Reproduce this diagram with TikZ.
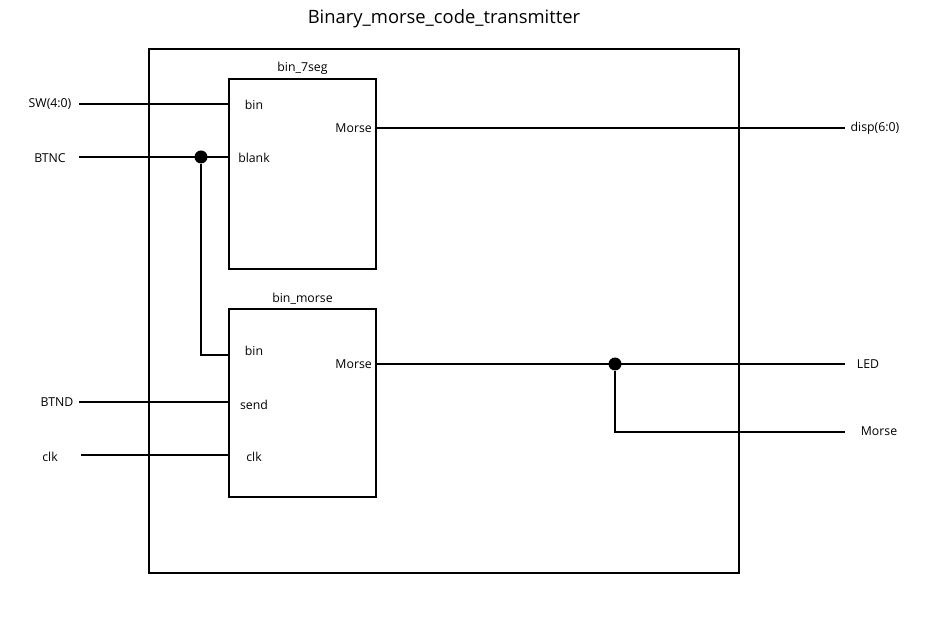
\documentclass[tikz,border=0pt]{standalone}
\usepackage{fontspec}
\setmainfont{Open Sans}
\usetikzlibrary{positioning,calc}

\begin{document}
\begin{tikzpicture}[
    x=1pt, y=-1pt,
    sig/.style={line width=1.4pt},
    top_box/.style={draw, line width=2.6pt, rectangle, minimum width=590pt, minimum height=524pt, inner sep=0pt},
    block/.style={draw, line width=2pt, rectangle, minimum width=147pt, minimum height=190pt, inner sep=0pt},
    blk_name/.style={font=\fontsize{12.3}{14}\selectfont, inner sep=1pt},
    port/.style={font=\fontsize{12.3}{14}\selectfont, inner sep=1pt},
    io_label/.style={font=\fontsize{12.3}{14}\selectfont, inner sep=1pt},
    dot/.style={circle, fill=black, inner sep=0pt, minimum size=13pt}
]
\useasboundingbox (0,0) rectangle (937,617);

% --- TOP LEVEL ---
\node[top_box] (top) at (444,311) {};
\node[font=\fontsize{18.4}{21}\selectfont] (title) at (444,19) {Binary\_morse\_code\_transmitter};

% --- BLOCKS ---
\node[block] (b7) at (302.5,174) {};
\node[blk_name, above=2pt of b7] (b7_name) {bin\_7seg};
\node[block, minimum height=188pt] (bm) at (302.5,403) {};
\node[blk_name, above=2pt of bm] (bm_name) {bin\_morse};

% ports of bin_7seg
\node[port] (b7_bin) at (254,105) {bin};
\node[port] (b7_blank) at (254,158) {blank};
\node[port, anchor=east] (b7_morse) at (373,128) {Morse};

% ports of bin_morse
\node[port] (bm_bin) at (254,351) {bin};
\node[port] (bm_send) at (254,405) {send};
\node[port] (bm_clk) at (254,457) {clk};
\node[port, anchor=east] (bm_morse) at (373,364) {Morse};

% --- INPUTS ---
\node[io_label] (sw) at (50,104) {SW(4:0)};
\node[io_label] (btnc) at (50,158) {BTNC};
\node[io_label] (btnd) at (57,402) {BTND};
\node[io_label] (clk) at (50,457) {clk};
\coordinate (sw_in) at (79,104);
\coordinate (btnc_in) at (79,157);
\coordinate (btnd_in) at (79,402);
\coordinate (clk_in) at (81,455);
\coordinate (bm_bin_in) at (229,355);

% --- OUTPUTS ---
\node[io_label] (disp) at (875,128) {disp(6:0)};
\node[io_label] (led) at (868,364) {LED};
\node[io_label] (morse) at (879,431) {Morse};
\coordinate (disp_out) at (845,128);
\coordinate (led_out) at (845,364);
\coordinate (morse_out) at (845,432);

% --- JUNCTIONS ---
\node[dot] (j_blank) at (201,157) {};
\node[dot] (j_morse) at (615,364) {};

% --- WIRES ---
\draw[sig] (sw_in) -- (sw_in -| b7.west);
\draw[sig] (btnc_in) -- (btnc_in -| b7.west);
\draw[sig] (j_blank) |- (bm_bin_in);
\draw[sig] (btnd_in) -- (btnd_in -| bm.west);
\draw[sig] (clk_in) -- (clk_in -| bm.west);

\draw[sig] (disp_out -| b7.east) -- (disp_out);
\draw[sig] (led_out -| bm.east) -- (led_out);
\draw[sig] (j_morse) |- (morse_out);

\end{tikzpicture}
\end{document}
